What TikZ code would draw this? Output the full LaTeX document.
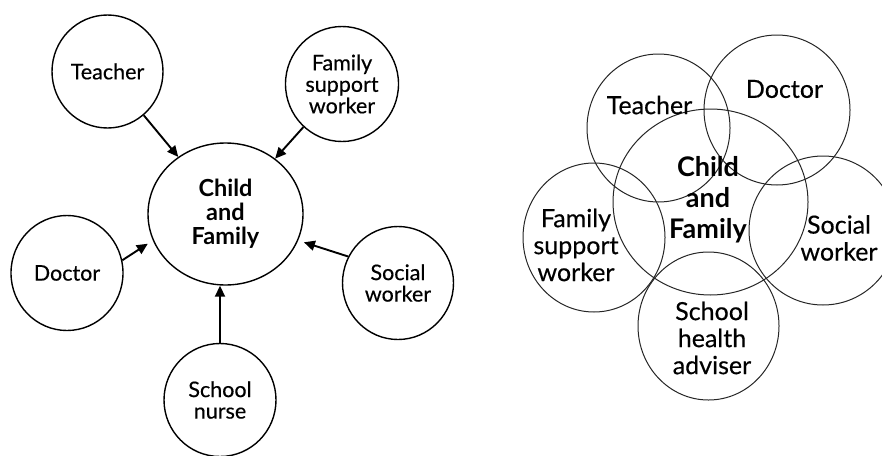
\documentclass[tikz,border=0pt]{standalone}
\usepackage{fontspec}
\setmainfont{Lato}
\newfontfamily\labelfont{Lato}[FakeBold=0.35]
\usetikzlibrary{shapes.geometric,arrows.meta}
\begin{document}
\begin{tikzpicture}[x=1pt,y=-1pt,
  ring/.style={ellipse,draw,line width=1.4pt,inner sep=0pt,align=center,
    font=\labelfont\fontsize{21.5}{21.5}\selectfont},
  hub/.style={ring,font=\bfseries\fontsize{23.5}{24}\selectfont},
  link/.style={line width=1.9pt,-{Triangle[length=11pt,width=10pt]}},
  petal/.style={ellipse,draw=black!85,line width=1pt,inner sep=0pt},
  tag/.style={align=center,inner sep=0pt,font=\labelfont\fontsize{25}{27}\selectfont},
  core/.style={tag,font=\bfseries\fontsize{27}{31}\selectfont}]
\useasboundingbox (0,0) rectangle (882,455);

% ---- hub and spokes: agencies around the child ----
\node[hub, minimum width=155pt, minimum height=142pt] (child) at (225.5,214) {Child\\and\\Family};
\node[ring, minimum width=111pt, minimum height=113pt] (teacher) at (107.5,71.5) {Teacher};
\node[ring, minimum width=113pt, minimum height=115pt] (fsw) at (342,84) {Family\\support\\worker};
\node[ring, minimum width=112pt, minimum height=115pt] (doctor) at (67,273) {Doctor};
\node[ring, minimum width=111pt, minimum height=113pt] (social) at (398,283) {Social\\worker};
\node[ring, minimum width=112pt, minimum height=113pt] (nurse) at (220,400) {School\\nurse};

\draw[link] (teacher) -- (child);
\draw[link] (fsw) -- (child);
\draw[link, shorten >=6pt] (doctor.13) -- (child.200);
\draw[link, shorten >=6pt] (social.152) -- (child.340);
\draw[link] (nurse.north) -- (nurse.north |- child.south);

% ---- overlapping circles: shared working ----
\node[petal, minimum width=195pt, minimum height=186pt] (childR) at (710.5,202) {};
\node[petal, minimum width=143pt, minimum height=148pt] (teacherR) at (658.5,128) {};
\node[petal, minimum width=146pt, minimum height=150pt] (doctorR) at (777,110) {};
\node[petal, minimum width=142pt, minimum height=149pt] (fswR) at (594,237.5) {};
\node[petal, minimum width=148pt, minimum height=149pt] (socialR) at (823,230.5) {};
\node[petal, minimum width=141pt, minimum height=148pt] (schoolR) at (708.5,326) {};

\node[tag] (teacherT) at (649.5,105) {Teacher};
\node[tag] (doctorT) at (784.5,89) {Doctor};
\node[core] (childT) at (708,200) {Child\\and\\Family};
\node[tag] (fswT) at (576,245) {Family\\support\\worker};
\node[tag] (socialT) at (839,238) {Social\\worker};
\node[tag] (schoolT) at (712,338) {School\\health\\adviser};
\end{tikzpicture}
\end{document}
